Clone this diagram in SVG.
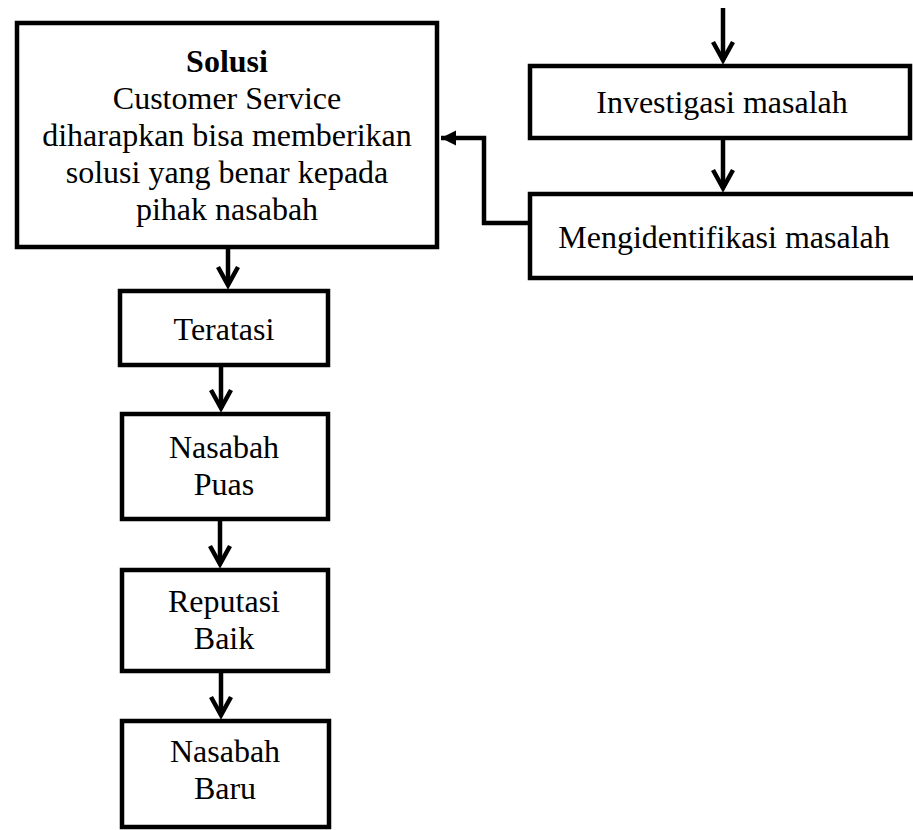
<svg xmlns="http://www.w3.org/2000/svg" width="913" height="830" viewBox="0 0 913 830">
<style>
.box{fill:#fff;stroke:#000;stroke-width:4.5;stroke-linejoin:miter}
.t{font-family:"Liberation Serif","Times New Roman",serif;font-size:32px;fill:#000;text-anchor:middle}
.b{font-weight:bold}
.c{fill:none;stroke:#000;stroke-width:4.5}
</style>
<defs>
<marker id="chev" markerUnits="userSpaceOnUse" orient="auto" refX="0" refY="0" markerWidth="30" markerHeight="30" overflow="visible">
<path d="M-18,-10 L0,0 L-18,10" fill="none" stroke="#000" stroke-width="4.5" stroke-linejoin="miter" stroke-linecap="butt"/>
</marker>
<marker id="tri" markerUnits="userSpaceOnUse" orient="auto" refX="0" refY="0" markerWidth="20" markerHeight="20" overflow="visible">
<path d="M-15,-7.5 L0,0 L-15,7.5 Z" fill="#000"/>
</marker>
</defs>
<g id="connectors">
<line class="c" x1="723" y1="8" x2="723" y2="60" marker-end="url(#chev)"/>
<line class="c" x1="723" y1="138" x2="723" y2="188" marker-end="url(#chev)"/>
<path class="c" d="M530,223 H484 V138 H441" marker-end="url(#tri)" stroke-linejoin="miter"/>
<line class="c" x1="228" y1="247" x2="228" y2="285" marker-end="url(#chev)"/>
<line class="c" x1="221" y1="365" x2="221" y2="408" marker-end="url(#chev)"/>
<line class="c" x1="220" y1="519" x2="220" y2="564" marker-end="url(#chev)"/>
<line class="c" x1="221" y1="671" x2="221" y2="715" marker-end="url(#chev)"/>
</g>
<g id="solusi">
<rect class="box" x="17" y="23" width="420" height="224"/>
<text class="t b" x="227" y="72">Solusi</text>
<text class="t" x="227" y="109">Customer Service</text>
<text class="t" x="227" y="146">diharapkan bisa memberikan</text>
<text class="t" x="227" y="183">solusi yang benar kepada</text>
<text class="t" x="227" y="220">pihak nasabah</text>
</g>
<g id="investigasi">
<rect class="box" x="530" y="66" width="380" height="72"/>
<text class="t" x="722" y="113">Investigasi masalah</text>
</g>
<g id="mengidentifikasi">
<rect class="box" x="530" y="194" width="400" height="84"/>
<text class="t" x="724" y="248">Mengidentifikasi masalah</text>
</g>
<g id="teratasi">
<rect class="box" x="120" y="291" width="208" height="74"/>
<text class="t" x="224" y="340">Teratasi</text>
</g>
<g id="nasabah-puas">
<rect class="box" x="122" y="414" width="206" height="105"/>
<text class="t" x="224" y="458">Nasabah</text>
<text class="t" x="224" y="495">Puas</text>
</g>
<g id="reputasi-baik">
<rect class="box" x="122" y="570" width="206" height="101"/>
<text class="t" x="224" y="612">Reputasi</text>
<text class="t" x="224" y="649">Baik</text>
</g>
<g id="nasabah-baru">
<rect class="box" x="122" y="721" width="207" height="106"/>
<text class="t" x="225" y="762">Nasabah</text>
<text class="t" x="225" y="799">Baru</text>
</g>
</svg>
